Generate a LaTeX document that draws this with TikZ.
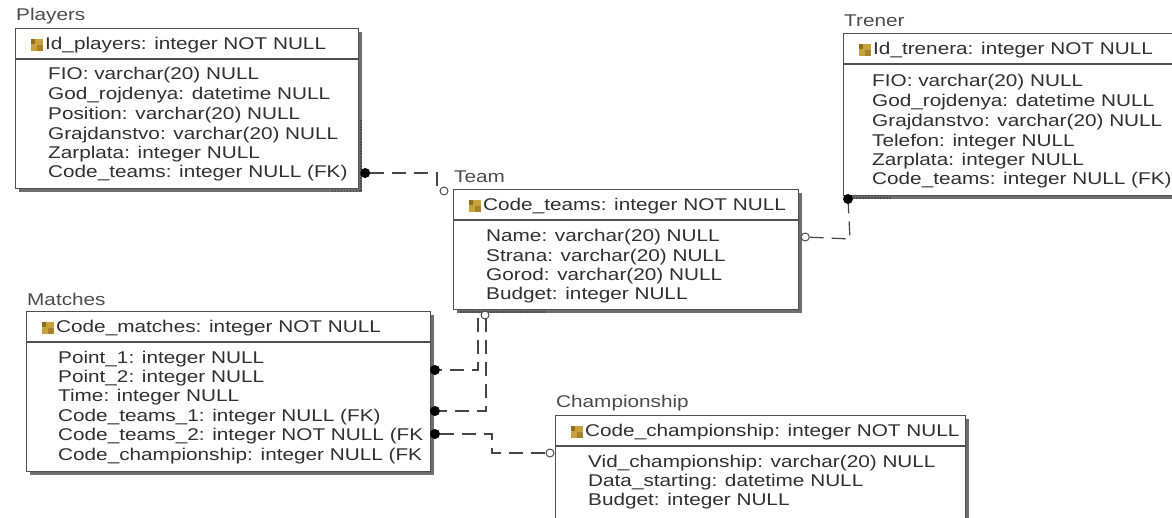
\documentclass[tikz,border=0pt]{standalone}
\usepackage{fontspec}
\setmainfont{Liberation Sans}[FakeStretch=1.22]
\usetikzlibrary{calc}
\definecolor{txt}{HTML}{303030}
\definecolor{bord}{HTML}{505050}
\definecolor{shad}{HTML}{6E6E6E}
\definecolor{keyc}{HTML}{C8A23A}
\definecolor{keyd}{HTML}{8E6E1E}
\newcommand\mktable[7]{%
  \fill[shad] (#2+3.5,#3+3.5) rectangle ++(#4,#5);
  \node[tbl, minimum width=#4pt, minimum height=#5pt] (#1) at (#2,#3) {};
  \node[ttl] (#1-t) at (#2+1,#3-12) {#6};
  \draw[bord, line width=1.1pt] (#1.north west) ++(0,31) -- ++(#4,0);
  \fill[keyc] (#2+16,#3+11) rectangle ++(12,12);
  \fill[keyd] (#2+16,#3+11) rectangle ++(4,5);
  \fill[keyd!60!keyc] (#2+22,#3+17) rectangle ++(6,6);
  \node[row] (#1-h) at (#2+30,#3+17) {#7};
}
\begin{document}
\begin{tikzpicture}[x=1pt,y=-1pt,
  tbl/.style={draw=bord, line width=1.2pt, fill=white, rectangle, anchor=north west, inner sep=0pt},
  row/.style={anchor=west, inner sep=0pt, text=txt, font=\fontsize{17}{19}\selectfont},
  ttl/.style={row, text=black!70},
  conn/.style={draw=black!72, line width=1.2pt, dash pattern=on 14pt off 8pt},
  fkdot/.style={fill=black, draw=none, circle, minimum size=10pt, inner sep=0pt},
  optc/.style={fill=white, draw=black!70, line width=1pt, circle, minimum size=8pt, inner sep=0pt},
  wavy/.style={draw=black!70, line width=1.8pt, dash pattern=on 1.5pt off 1.5pt},
]
\useasboundingbox[fill=white] (0,0) rectangle (1172,517);

% ---------- Players ----------
\mktable{players}{15}{28}{343}{160}{Players}{Id\_players: integer NOT NULL}
\node[row] (p1) at (48,75) {FIO: varchar(20) NULL};
\node[row] (p2) at (48,95) {God\_rojdenya: datetime NULL};
\node[row] (p3) at (48,115) {Position: varchar(20) NULL};
\node[row] (p4) at (48,135) {Grajdanstvo: varchar(20) NULL};
\node[row] (p5) at (48,154) {Zarplata: integer NULL};
\node[row] (p6) at (48,173) {Code\_teams: integer NULL (FK)};
\draw[wavy] (361,120) -- (361,191) -- (330,191);

% ---------- Team ----------
\mktable{team}{453}{189}{345}{120}{Team}{Code\_teams: integer NOT NULL}
\node[row] (t1) at (486,237) {Name: varchar(20) NULL};
\node[row] (t2) at (486,257) {Strana: varchar(20) NULL};
\node[row] (t3) at (486,276) {Gorod: varchar(20) NULL};
\node[row] (t4) at (486,295) {Budget: integer NULL};
\draw[wavy] (460,312) -- (545,312);

% ---------- Trener ----------
\mktable{trener}{843}{33}{345}{162}{Trener}{Id\_trenera: integer NOT NULL}
\node[row] (r1) at (872,82) {FIO: varchar(20) NULL};
\node[row] (r2) at (872,102) {God\_rojdenya: datetime NULL};
\node[row] (r3) at (872,122) {Grajdanstvo: varchar(20) NULL};
\node[row] (r4) at (872,142) {Telefon: integer NULL};
\node[row] (r5) at (872,161) {Zarplata: integer NULL};
\node[row] (r6) at (872,180) {Code\_teams: integer NULL (FK)};
\draw[wavy] (850,198) -- (892,198);

% ---------- Matches ----------
\mktable{matches}{26}{311}{404}{160}{Matches}{Code\_matches: integer NOT NULL}
\node[row] (m1) at (58,359) {Point\_1: integer NULL};
\node[row] (m2) at (58,378) {Point\_2: integer NULL};
\node[row] (m3) at (58,397) {Time: integer NULL};
\node[row] (m4) at (58,417) {Code\_teams\_1: integer NULL (FK)};
\node[row] (m5) at (58,436) {Code\_teams\_2: integer NOT NULL (FK};
\node[row] (m6) at (58,456) {Code\_championship: integer NULL (FK};

% ---------- Championship ----------
\mktable{champ}{555}{415}{410}{110}{Championship}{Code\_championship: integer NOT NULL}
\node[row] (c1) at (588,463) {Vid\_championship: varchar(20) NULL};
\node[row] (c2) at (588,482) {Data\_starting: datetime NULL};
\node[row] (c3) at (588,501) {Budget: integer NULL};

% ---------- connector end markers ----------
\node[fkdot] (d1) at (players.east |- p6) [xshift=6pt] {};
\node[optc] (o1) at (444,191) {};
\node[optc] (o2) at (team.east |- t1) [xshift=6pt] {};
\node[fkdot] (d2) at (848,199) {};
\node[optc] (o3) at (485,315) {};
\node[fkdot] (d3) at (435,370) {};
\node[fkdot] (d4) at (435,411) {};
\node[fkdot] (d5) at (435,434) {};
\node[optc] (o4) at (550,453) {};

% ---------- connectors ----------
\draw[conn] (d1) -- (437,173) -- (437,187) -- (o1);
\draw[conn] (o2) -- (850,239) -- (d2);
\draw[conn] (o3) ++(-7,3) -- (478,370) -- (d3);
\draw[conn] (o3) ++(1,3) -- (486,411) -- (d4);
\draw[conn] (d5) -- (492,434) -- (492,453) -- (o4);
\end{tikzpicture}
\end{document}
